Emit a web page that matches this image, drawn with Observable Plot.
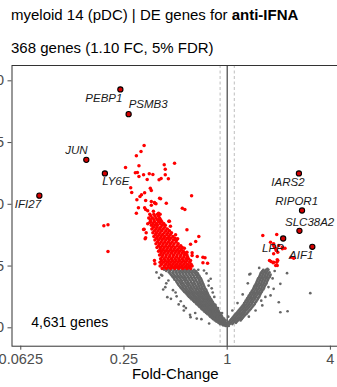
<!DOCTYPE html>
<html><head><meta charset="utf-8">
<script src="https://cdn.jsdelivr.net/npm/d3@7"></script>
<script src="https://cdn.jsdelivr.net/npm/@observablehq/plot@0.6"></script>
<style>
html,body{margin:0;padding:0;background:#fff;width:337px;height:387px;overflow:hidden;font-family:"Liberation Sans",Arial,sans-serif;}
#wrap{position:relative;width:337px;height:387px;overflow:hidden;}
.t{position:absolute;left:11px;font-size:15px;line-height:15px;color:#000;white-space:nowrap;}
#chart{position:absolute;left:-30px;top:60px;}
</style></head>
<body><div id="wrap">
<div class="t" style="top:6.6px">myeloid 14 (pDC) | DE genes for <b>anti-IFNA</b></div>
<div class="t" style="top:39.8px">368 genes (1.10 FC, 5% FDR)</div>
<div id="chart"></div>
</div>
<script>
// ---- data: [log2 fold-change, -log10 p] ----
const xTicks = [0.0625, 0.25, 1, 4];
const xTickLabels = ["0.0625", "0.25", "1", "4"];
const yTicks = [0, 5, 10, 15, 20];
const fcThreshold = 1.1;
const geneCountLabel = "4,631 genes";

const geneNames = ["PEBP1","PSMB3","JUN","LY6E","IFI27","IARS2","RIPOR1","SLC38A2","LPP","AIF1"];
const geneLfc   = [-2.07, -1.91, -2.73, -2.37, -3.64, 1.39, 1.45, 1.40, 1.085, 1.65];
const geneY     = [19.3, 17.3, 13.6, 12.5, 10.7, 12.5, 9.5, 7.85, 7.23, 6.56];

// significant, down (sparse)
const sigDownSparse = [[-1.61,14.76],[-1.67,14.28],[-1.76,13.93],[-1.02,13.33],[-1.22,13.20],[-1.71,13.12],[-1.20,12.84],[-1.97,12.98],[-1.74,12.57],[-1.78,12.55],[-1.51,12.47],[-1.44,12.41],[-1.62,12.39],[-1.20,12.39],[-1.71,12.25],[-1.55,12.01],[-1.28,12.09],[-1.32,11.98],[-1.14,12.06],[-1.87,11.34],[-1.49,11.30],[-1.47,11.12],[-1.60,10.93],[-1.66,10.77],[-1.69,10.63],[-1.85,10.96],[-1.31,10.49],[-1.75,10.36],[-0.69,10.69],[-1.41,10.15],[-1.38,10.04],[-1.18,10.09],[-1.58,10.31],[-1.47,10.23],[-1.29,10.45],[-0.87,9.68],[-0.82,9.58],[-1.72,9.72],[-1.58,9.58],[-1.54,9.47],[-1.43,9.44],[-1.33,9.28],[-1.76,9.28],[-1.12,8.63],[-2.39,8.26],[-2.31,8.34],[-2.31,6.18],[-1.62,7.96],[-1.10,8.23],[-0.78,7.94],[-0.55,7.39],[-1.58,7.29],[-1.47,9.93],[-1.40,10.09],[-1.60,9.72],[-1.50,8.53],[-1.54,8.42],[-1.13,8.63],[-1.61,7.98],[-1.57,7.69],[-1.00,7.53],[-0.96,7.21],[-0.61,6.99],[-0.71,6.77],[-0.83,6.45],[-0.78,6.12],[-0.68,6.07],[-0.58,5.77],[-0.68,5.85],[-0.43,5.67],[-0.47,5.26],[-0.38,5.23],[-0.47,5.72],[-1.40,5.18],[-1.41,5.45],[-1.59,7.21]];
// significant, down (dense core), rows of [y, lfc list]
const sigDownCore = [
 [9.2,[-1.50,-1.42,-1.35,-1.30]],
 [9.05,[-1.48,-1.40,-1.33]],
 [8.9,[-1.52,-1.45,-1.38,-1.31]],
 [8.75,[-1.49,-1.42,-1.35,-1.29]],
 [8.6,[-1.48,-1.41,-1.33,-1.27]],
 [8.45,[-1.44,-1.37,-1.30,-1.23]],
 [8.3,[-1.47,-1.40,-1.35,-1.26,-1.20]],
 [8.15,[-1.43,-1.36,-1.29,-1.21]],
 [8.0,[-1.46,-1.38,-1.31,-1.24,-1.16]],
 [7.85,[-1.41,-1.34,-1.27,-1.19,-1.12]],
 [7.7,[-1.44,-1.37,-1.30,-1.22,-1.15,-1.08]],
 [7.55,[-1.39,-1.32,-1.25,-1.17,-1.10]],
 [7.4,[-1.42,-1.35,-1.28,-1.21,-1.13,-1.05]],
 [7.25,[-1.37,-1.30,-1.23,-1.16,-1.09,-1.01]],
 [7.1,[-1.40,-1.33,-1.26,-1.19,-1.12,-1.04,-0.98]],
 [6.95,[-1.35,-1.28,-1.21,-1.14,-1.07,-0.99]],
 [6.8,[-1.38,-1.31,-1.24,-1.17,-1.10,-1.03,-0.95]],
 [6.65,[-1.33,-1.26,-1.19,-1.12,-1.05,-0.97,-0.90]],
 [6.5,[-1.36,-1.29,-1.22,-1.15,-1.08,-1.01,-0.93,-0.87]],
 [6.35,[-1.30,-1.24,-1.17,-1.10,-1.03,-0.96,-0.89]],
 [6.2,[-1.33,-1.27,-1.20,-1.13,-1.06,-0.99,-0.92,-0.85]],
 [6.05,[-1.28,-1.22,-1.15,-1.08,-1.01,-0.94,-0.87,-0.81]],
 [5.9,[-1.31,-1.25,-1.18,-1.11,-1.04,-0.97,-0.90,-0.83,-0.78]],
 [5.75,[-1.26,-1.19,-1.12,-1.05,-0.98,-0.91,-0.84,-0.77]],
 [5.6,[-1.29,-1.22,-1.15,-1.08,-1.01,-0.94,-0.87,-0.80,-0.75]],
 [5.45,[-1.27,-1.20,-1.13,-1.06,-0.99,-0.92,-0.85,-0.78,-0.71]],
 [5.3,[-1.30,-1.23,-1.16,-1.09,-1.02,-0.95,-0.88,-0.81,-0.73]],
 [5.15,[-1.27,-1.19,-1.12,-1.05,-0.98,-0.91,-0.84,-0.77,-0.70]],
 [5.0,[-1.30,-1.22,-1.15,-1.08,-1.01,-0.94,-0.87,-0.80,-0.73,-0.68]],
 [4.9,[-1.22,-1.14,-1.06,-0.98,-0.90,-0.82,-0.75]],
 [4.8,[-1.26,-1.18,-1.10,-1.02,-0.94,-0.86,-0.78,-0.71]]
];
// significant, up
const sigUp = [[0.69,7.47],[0.96,7.55],[1.12,6.45],[0.92,6.53],[0.95,6.26],[0.98,6.12],[0.82,5.45],[0.85,5.37],[0.96,5.31],[0.97,5.04],[1.29,5.64],[1.24,5.72],[0.90,6.80],[1.00,6.66],[1.07,6.53],[0.94,6.40],[0.90,5.99],[0.89,5.26],[0.98,5.45],[0.84,6.93],[0.90,6.66],[1.07,6.40],[0.90,5.31],[0.97,5.51],[0.94,5.04]];

// not significant: rows of [y, lfc list]
const nsLeftRows = [
 [4.7,[-1.22,-1.15,-1.08,-1.01,-0.95,-0.88,-0.82,-0.76,-0.70,-0.64]],
 [4.6,[-1.18,-1.11,-1.04,-0.98,-0.91,-0.85,-0.79,-0.73,-0.67,-0.61]],
 [4.5,[-1.13,-1.06,-1.00,-0.94,-0.88,-0.82,-0.76,-0.70,-0.64,-0.59]],
 [4.4,[-1.11,-1.05,-0.98,-0.92,-0.86,-0.80,-0.74,-0.68,-0.62,-0.57]],
 [4.3,[-1.09,-1.03,-0.97,-0.91,-0.85,-0.79,-0.73,-0.67,-0.61,-0.56]],
 [4.2,[-1.07,-1.01,-0.95,-0.89,-0.83,-0.77,-0.71,-0.65,-0.59,-0.54]],
 [4.1,[-1.05,-0.99,-0.93,-0.87,-0.82,-0.76,-0.70,-0.64,-0.58,-0.53]],
 [4.0,[-1.03,-0.97,-0.91,-0.85,-0.80,-0.74,-0.68,-0.62,-0.56,-0.51]],
 [3.9,[-1.02,-0.96,-0.90,-0.84,-0.79,-0.73,-0.67,-0.61,-0.55,-0.50]],
 [3.8,[-0.99,-0.93,-0.88,-0.82,-0.77,-0.71,-0.65,-0.60,-0.54,-0.49]],
 [3.7,[-0.98,-0.92,-0.87,-0.81,-0.76,-0.70,-0.64,-0.58,-0.53,-0.48]],
 [3.6,[-0.96,-0.90,-0.85,-0.79,-0.74,-0.68,-0.63,-0.57,-0.52,-0.47]],
 [3.5,[-0.95,-0.89,-0.84,-0.78,-0.73,-0.67,-0.62,-0.56,-0.51,-0.46]],
 [3.4,[-0.93,-0.87,-0.82,-0.76,-0.71,-0.66,-0.60,-0.55,-0.50,-0.45]],
 [3.3,[-0.91,-0.86,-0.80,-0.75,-0.70,-0.64,-0.59,-0.54,-0.49,-0.44]],
 [3.2,[-0.89,-0.84,-0.79,-0.73,-0.68,-0.63,-0.58,-0.53,-0.48,-0.43]],
 [3.1,[-0.87,-0.82,-0.77,-0.72,-0.67,-0.61,-0.56,-0.51,-0.46,-0.41]],
 [3.0,[-0.85,-0.80,-0.75,-0.70,-0.65,-0.60,-0.55,-0.50,-0.45,-0.40]],
 [2.9,[-0.83,-0.78,-0.73,-0.68,-0.63,-0.58,-0.53,-0.48,-0.43,-0.39]],
 [2.8,[-0.80,-0.75,-0.71,-0.66,-0.61,-0.56,-0.51,-0.47,-0.42,-0.38]],
 [2.7,[-0.78,-0.73,-0.68,-0.64,-0.59,-0.54,-0.50,-0.45,-0.41,-0.37]],
 [2.6,[-0.76,-0.71,-0.66,-0.62,-0.57,-0.53,-0.48,-0.44,-0.40,-0.36]],
 [2.5,[-0.74,-0.69,-0.64,-0.60,-0.55,-0.51,-0.47,-0.42,-0.38,-0.34]],
 [2.4,[-0.71,-0.67,-0.62,-0.58,-0.54,-0.49,-0.45,-0.41,-0.37,-0.33]],
 [2.3,[-0.69,-0.65,-0.60,-0.56,-0.52,-0.47,-0.43,-0.39,-0.35,-0.31]],
 [2.2,[-0.66,-0.62,-0.58,-0.54,-0.50,-0.46,-0.42,-0.38,-0.34,-0.30]],
 [2.1,[-0.64,-0.60,-0.56,-0.52,-0.48,-0.44,-0.40,-0.36,-0.32,-0.28]],
 [2.0,[-0.61,-0.57,-0.53,-0.50,-0.46,-0.42,-0.38,-0.34,-0.30,-0.27]],
 [1.9,[-0.59,-0.55,-0.51,-0.47,-0.44,-0.40,-0.36,-0.32,-0.29,-0.25]],
 [1.8,[-0.56,-0.52,-0.49,-0.45,-0.41,-0.38,-0.34,-0.30,-0.27,-0.23]],
 [1.7,[-0.54,-0.50,-0.47,-0.43,-0.39,-0.36,-0.32,-0.29,-0.25,-0.22]],
 [1.6,[-0.51,-0.48,-0.44,-0.41,-0.37,-0.34,-0.30,-0.27,-0.24,-0.20]],
 [1.5,[-0.49,-0.46,-0.42,-0.39,-0.35,-0.32,-0.29,-0.25,-0.22,-0.19]],
 [1.4,[-0.46,-0.43,-0.40,-0.36,-0.33,-0.30,-0.27,-0.24,-0.20,-0.17]],
 [1.3,[-0.44,-0.41,-0.37,-0.34,-0.31,-0.28,-0.25,-0.22,-0.19,-0.16]],
 [1.2,[-0.41,-0.38,-0.35,-0.32,-0.29,-0.26,-0.23,-0.20,-0.17,-0.14]],
 [1.1,[-0.38,-0.35,-0.32,-0.29,-0.27,-0.24,-0.21,-0.18,-0.15,-0.13]],
 [1.0,[-0.35,-0.32,-0.29,-0.26,-0.23,-0.20,-0.17,-0.14,-0.11]],
 [0.9,[-0.33,-0.30,-0.27,-0.24,-0.21,-0.18,-0.15,-0.12,-0.10]],
 [0.8,[-0.30,-0.27,-0.24,-0.21,-0.18,-0.15,-0.12,-0.09]],
 [0.7,[-0.27,-0.24,-0.21,-0.18,-0.15,-0.12,-0.09,-0.07]],
 [0.6,[-0.24,-0.21,-0.18,-0.15,-0.12,-0.09,-0.06,-0.03]],
 [0.5,[-0.21,-0.18,-0.15,-0.12,-0.09,-0.06,-0.04]],
 [0.4,[-0.17,-0.14,-0.11,-0.08,-0.05,-0.02]],
 [0.3,[-0.14,-0.11,-0.08,-0.05,-0.02]],
 [0.2,[-0.08,-0.05,-0.02,0.00]]
];
const nsRightRows = [
 [4.7,[0.70,0.75,0.80]],
 [4.6,[0.68,0.73,0.78]],
 [4.5,[0.66,0.71,0.76,0.82]],
 [4.4,[0.65,0.70,0.75,0.80]],
 [4.3,[0.64,0.69,0.74,0.79,0.84]],
 [4.2,[0.63,0.68,0.73,0.78,0.83]],
 [4.1,[0.62,0.67,0.72,0.77,0.82]],
 [4.0,[0.60,0.65,0.70,0.75,0.80]],
 [3.9,[0.59,0.64,0.69,0.74,0.79]],
 [3.8,[0.58,0.63,0.68,0.73,0.78]],
 [3.7,[0.57,0.62,0.67,0.72,0.77]],
 [3.6,[0.56,0.61,0.66,0.71,0.76]],
 [3.5,[0.55,0.60,0.65,0.70,0.75]],
 [3.4,[0.53,0.58,0.63,0.68,0.73]],
 [3.3,[0.52,0.57,0.62,0.67,0.72]],
 [3.2,[0.51,0.56,0.61,0.66,0.71]],
 [3.1,[0.50,0.55,0.60,0.65,0.70]],
 [3.0,[0.48,0.53,0.58,0.63,0.68]],
 [2.9,[0.47,0.52,0.57,0.62,0.67]],
 [2.8,[0.45,0.50,0.55,0.60,0.65]],
 [2.7,[0.44,0.49,0.54,0.59,0.64]],
 [2.6,[0.42,0.47,0.52,0.57,0.63]],
 [2.5,[0.41,0.46,0.51,0.56,0.62]],
 [2.4,[0.39,0.44,0.49,0.54,0.60]],
 [2.3,[0.38,0.43,0.48,0.53,0.59]],
 [2.2,[0.36,0.41,0.46,0.51,0.57]],
 [2.1,[0.35,0.40,0.45,0.50,0.56]],
 [2.0,[0.33,0.38,0.43,0.48,0.54]],
 [1.9,[0.32,0.37,0.42,0.47,0.53]],
 [1.8,[0.30,0.35,0.40,0.45,0.51]],
 [1.7,[0.28,0.33,0.38,0.43,0.49]],
 [1.6,[0.26,0.31,0.36,0.41,0.47]],
 [1.5,[0.24,0.29,0.34,0.39,0.45]],
 [1.4,[0.22,0.27,0.32,0.37,0.43]],
 [1.3,[0.20,0.25,0.30,0.35,0.41]],
 [1.2,[0.18,0.23,0.28,0.33,0.39]],
 [1.1,[0.16,0.21,0.26,0.31,0.37]],
 [1.0,[0.14,0.19,0.24,0.29,0.34]],
 [0.9,[0.12,0.17,0.22,0.27,0.32]],
 [0.8,[0.10,0.15,0.20,0.25,0.30]],
 [0.7,[0.08,0.13,0.18,0.23,0.28]],
 [0.6,[0.06,0.11,0.16,0.21,0.26]],
 [0.5,[0.04,0.09,0.14,0.19]],
 [0.4,[0.03,0.07,0.12,0.17]],
 [0.3,[0.01,0.05,0.10]],
 [0.15,[-0.03,0.00,0.03]]
];
const nsOutliers = [[0.43,4.32],[1.61,2.80],[1.03,1.26],[1.17,1.34],[0.78,4.78],[1.03,3.56],[0.90,3.16],[1.00,2.07],[1.16,4.42],[0.45,4.37],[0.55,3.42],[0.84,2.62],[0.68,1.81],
 [-1.26,4.23],[-1.20,3.29],[-1.09,2.35],[-0.84,1.75],[-0.72,1.05],[-0.45,4.64],[-0.32,3.97],[-0.23,1.86],[-0.13,0.86],[-1.28,4.29],[-1.24,3.10],[-1.16,2.48],[-0.84,1.40],[-0.71,0.86],[-0.56,4.70],[-1.37,4.48],[-1.14,3.83],[-1.00,2.86],[-0.94,1.89],[-0.59,0.75],[-0.28,2.86],[-0.36,3.42],
 [-1.32,4.05],[-1.18,3.60],[-1.05,3.05],[-0.98,2.55],[-0.90,2.15],[-0.80,1.60],[-0.62,1.20],[-0.50,0.70],[-0.35,0.35],[-0.40,4.40],[-0.36,3.80],[-0.30,3.20],[-0.25,2.50],[-0.18,1.60],[-0.10,1.20],[-0.06,0.75],
 [0.40,3.60],[0.30,2.70],[0.20,2.00],[0.10,1.40],[0.02,0.90],[0.88,4.00],[0.80,3.30],[0.74,2.50],[0.66,2.20],[0.55,1.40],[0.42,0.90],[0.92,4.60],[0.62,4.85]];

// label placement (style)
const labelPlace = {
 PEBP1:["end",2,9.2], PSMB3:["start",0,-9.5], JUN:["end",1.3,-9.3], LY6E:["start",-2.6,8.1],
 IFI27:["end",1.7,8.3], IARS2:["end",5.7,8.4], RIPOR1:["middle",-5.4,-8.8], SLC38A2:["middle",10.2,-8.3],
 LPP:["end",0.6,9.5], AIF1:["end",1,8.5]
};

const flat = rows => rows.flatMap(([y, xs]) => xs.map(x => [x, y]));
const ns = [...flat(nsLeftRows), ...flat(nsRightRows), ...nsOutliers];
const sig = [...sigDownSparse, ...flat(sigDownCore), ...sigUp];
const genes = geneNames.map((g, i) => ({g, lfc: geneLfc[i], y: geneY[i]}));

const fx = d => 2 ** d[0];
const fy = d => d[1];
const font = "Liberation Sans, Arial, sans-serif";

const labelMarks = genes.map(d => {
  const [a, dx, dy] = labelPlace[d.g];
  return Plot.text([d], {x: e => 2 ** e.lfc, y: "y", text: "g", textAnchor: a, dx, dy,
    fontSize: 11.5, fontStyle: "italic", fill: "#1a1a1a"});
});

const chart = Plot.plot({
  width: 368, height: 327,
  marginLeft: 41.5, marginRight: 0, marginTop: 5, marginBottom: 41.3,
  x: {type: "log", base: 2, domain: [2 ** -4.17, 2 ** 2.157]},
  y: {domain: [-1.49, 21.24]},
  style: {fontFamily: font, background: "transparent", maxWidth: "none", overflow: "visible"},
  marks: [
    Plot.ruleX([1 / fcThreshold, fcThreshold], {stroke: "#bdbdbd", strokeDasharray: "3,2.5", strokeWidth: 1}),
    Plot.ruleX([1], {stroke: "#333", strokeWidth: 1.1}),
    Plot.dot(ns, {x: fx, y: fy, r: 1.35, fill: "#666", stroke: null}),
    Plot.dot(sig, {x: fx, y: fy, r: 1.75, fill: "#ff0000", stroke: null}),
    Plot.dot(genes, {x: d => 2 ** d.lfc, y: "y", r: 2.6, fill: "#d40000", stroke: "#000", strokeWidth: 1.1}),
    ...labelMarks,
    Plot.text([geneCountLabel], {frameAnchor: "bottom-left", text: d => d, textAnchor: "start", dx: 19.2, dy: -19.2, fontSize: 14, fill: "#000"}),
    Plot.frame({stroke: "#333", strokeWidth: 1}),
    Plot.axisX(xTicks, {tickFormat: d => xTickLabels[xTicks.indexOf(d)], tickSize: 4, tickPadding: 4, fontSize: 14.5, color: "#4d4d4d", label: null}),
    Plot.axisY(yTicks, {tickSize: 4, tickPadding: 4, fontSize: 14.5, color: "#4d4d4d", label: null}),
    Plot.text(["Fold-Change"], {frameAnchor: "bottom", text: d => d, dy: 32.5, fontSize: 15, fill: "#000"})
  ]
});
document.getElementById("chart").appendChild(chart);
</script>
</body></html>
